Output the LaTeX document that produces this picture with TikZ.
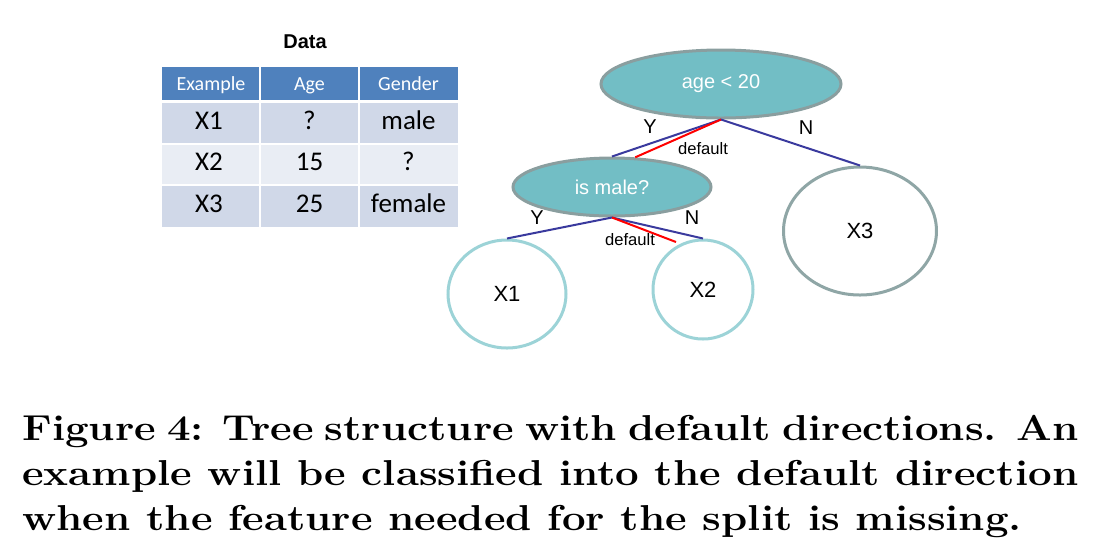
\documentclass[tikz,border=0pt]{standalone}
\usepackage{fontspec}
\newfontfamily\arialfont{Liberation Sans}
\newfontfamily\calibrifont{Carlito}
\usetikzlibrary{shapes.geometric}
\definecolor{tblhead}{HTML}{4F81BD}
\definecolor{tbldark}{HTML}{D0D8E8}
\definecolor{tbllight}{HTML}{E9EDF4}
\definecolor{nodeteal}{HTML}{72BEC5}
\definecolor{nodegray}{HTML}{8A9E9F}
\definecolor{leafteal}{HTML}{9CD3D7}
\definecolor{leafgray}{HTML}{8FA6A6}
\definecolor{edgeblue}{HTML}{3A3A9E}
\definecolor{dfltred}{HTML}{FF0000}
\newcommand{\capline}[1]{\scalebox{1.167}[1]{#1}}
\tikzset{
  splitnode/.style={ellipse, draw=nodegray, line width=1.5pt, fill=nodeteal,
    text=white, font=\arialfont\fontsize{10}{12}\selectfont, inner sep=0pt},
  leaf/.style={ellipse, draw=leafteal, line width=1.5pt,
    font=\arialfont\fontsize{11}{13}\selectfont, inner sep=0pt},
  branch/.style={edgeblue, line width=1pt},
  dflt/.style={dfltred, line width=1pt},
  edgelabel/.style={font=\arialfont\fontsize{10}{12}\selectfont, inner sep=0pt},
  dfltlabel/.style={font=\arialfont\fontsize{8.3}{10}\selectfont, inner sep=0pt},
  cell/.style={font=\calibrifont\fontsize{13.5}{15}\selectfont, inner sep=0pt,
    text height=0.64em, text depth=0pt},
  headcell/.style={cell, font=\calibrifont\fontsize{10}{12}\selectfont, text=white},
  caption/.style={font=\bfseries\fontsize{18}{22.5}\selectfont, inner sep=0pt},
}

\begin{document}
\begin{tikzpicture}[x=0.5pt, y=-0.5pt]
  \useasboundingbox (0,0) rectangle (1116,554);
  % data table
  \node[font=\arialfont\bfseries\fontsize{10}{12}\selectfont] (title) at (305,42) {Data};
  \fill[tblhead] (162,67) rectangle (458,100);
  \fill[tbldark] (162,103) rectangle (458,144);
  \fill[tbllight] (162,144) rectangle (458,185);
  \fill[tbldark] (162,185) rectangle (458,227);
  \draw[white, line width=0.75pt] (162,144) -- (458,144) (162,185) -- (458,185);
  \foreach \x in {260,359} \draw[white, line width=0.75pt] (\x,67) -- (\x,227);
  \node[headcell] (hex) at (211,84) {Example};
  \node[headcell] (hage) at (309.5,84) {Age};
  \node[headcell] (hgen) at (408.5,84) {Gender};
  \foreach \name/\y/\a/\b/\c in {r1/123.5/X1/?/male, r2/164.5/X2/15/?, r3/206.5/X3/25/female} {
    \node[cell] (\name ex) at (209,\y) {\a};
    \node[cell] (\name age) at (309.5,\y) {\b};
    \node[cell] (\name gen) at (408.5,\y) {\c};
  }
  % tree
  \node[splitnode, minimum width=120pt, minimum height=34pt] (age) at (721,84) {age < 20};
  \node[splitnode, minimum width=99pt, minimum height=29pt] (male) at (612,187) {is male?};
  \node[leaf, minimum width=59pt, minimum height=54pt] (x1) at (507,294) {X1};
  \node[leaf, minimum width=50pt, minimum height=49.5pt] (x2) at (703,289.5) {X2};
  \node[leaf, draw=leafgray, minimum width=76.5pt, minimum height=64pt] (x3) at (860,231) {X3};
  \coordinate (dfltend) at (676,242);
  \draw[branch] (age.south) -- (male.north);
  \draw[branch] (age.south) -- (x3.north);
  \draw[dflt] (age.south) -- (male.52);
  \draw[branch] (male.south) -- (x1.north);
  \draw[branch] (male.south) -- (x2.north);
  \draw[dflt] (male.south) -- (dfltend);
  \node[edgelabel] (y1) at (650,127) {Y};
  \node[edgelabel] (n1) at (806,128) {N};
  \node[dfltlabel] (d1) at (703,149) {default};
  \node[edgelabel] (y2) at (537,218) {Y};
  \node[edgelabel] (n2) at (692,218) {N};
  \node[dfltlabel] (d2) at (630,240) {default};
  % caption
  \node[caption, anchor=base west] (cap1) at (22,440) {\capline{\makebox[452.4pt][s]{Figure 4: Tree structure with default directions. An}}};
  \node[caption, anchor=base west] (cap2) at (22,485) {\capline{\makebox[452.4pt][s]{example will be classified into the default direction}}};
  \node[caption, anchor=base west] (cap3) at (22,530) {\capline{when the feature needed for the split is missing.}};
\end{tikzpicture}
\end{document}
